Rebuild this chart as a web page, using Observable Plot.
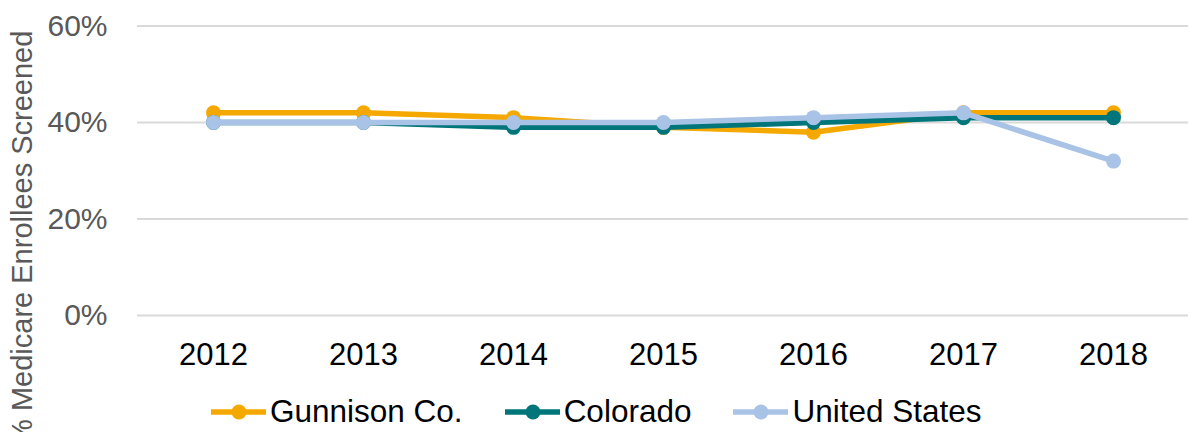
<!DOCTYPE html>
<html>
<head>
<meta charset="utf-8">
<script src="https://cdn.jsdelivr.net/npm/d3@7"></script>
<script src="https://cdn.jsdelivr.net/npm/@observablehq/plot@0.6"></script>
<style>
  html, body { margin: 0; padding: 0; background: #fff; }
  #wrap { position: relative; width: 1189px; height: 432px; overflow: hidden; font-family: "Liberation Sans", Arial, sans-serif; }
  #legend { position: absolute; left: 211px; top: 393px; display: flex; align-items: center; font-size: 31.5px; color: #000; white-space: nowrap; }
  .item { display: flex; align-items: center; margin-right: 42px; }
  .item svg { margin-right: 4px; }
</style>
</head>
<body>
<div id="wrap"><div id="legend"></div></div>
<script>
const years = ["2012", "2013", "2014", "2015", "2016", "2017", "2018"];
const gunnison = [42, 42, 41, 39, 38, 42, 42];
const colorado = [40, 40, 39, 39, 40, 41, 41];
const unitedStates = [40, 40, 40, 40, 41, 42, 32];
const seriesNames = ["Gunnison Co.", "Colorado", "United States"];
const seriesColors = ["#F5A800", "#00767A", "#A9C3E7"];
const yTicks = [0, 20, 40, 60];
const yLabel = "% Medicare Enrollees Screened";

const seriesValues = [gunnison, colorado, unitedStates];
const rows = seriesNames.map((name, s) => years.map((yr, i) => ({series: name, year: yr, value: seriesValues[s][i]})));

const marks = [
  Plot.gridY(yTicks, {stroke: "#d9d9d9", strokeOpacity: 1, strokeWidth: 2})
];
rows.forEach((data, s) => {
  marks.push(Plot.line(data, {x: "year", y: "value", stroke: seriesColors[s], strokeWidth: 5.5}));
  marks.push(Plot.dot(data, {x: "year", y: "value", fill: seriesColors[s], r: 7.5}));
});
marks.push(Plot.axisY(yTicks, {tickSize: 0, tickPadding: 30, tickFormat: d => d + "%", fontSize: 30, fill: "#595959", label: null}));
marks.push(Plot.axisX({tickSize: 0, tickPadding: 27, fontSize: 31, fill: "#000", label: null}));
marks.push(Plot.text([yLabel], {text: d => d, frameAnchor: "left", rotate: -90, dx: -114.5, dy: 67, fontSize: 29, fill: "#595959", textAnchor: "middle", lineAnchor: "middle"}));

const chart = Plot.plot({
  width: 1189,
  height: 432,
  marginLeft: 137,
  marginRight: 1,
  marginTop: 25.5,
  marginBottom: 117,
  style: {fontFamily: "'Liberation Sans', Arial, sans-serif", background: "#fff", overflow: "visible"},
  x: {type: "point", domain: years, padding: 0.5, align: 0.5},
  y: {domain: [0, 60]},
  marks
});
document.getElementById("wrap").prepend(chart);

const legend = d3.select("#legend");
seriesNames.forEach((name, s) => {
  const item = legend.append("div").attr("class", "item");
  const sv = item.append("svg").attr("width", 55).attr("height", 20);
  sv.append("line").attr("x1", 1).attr("x2", 54).attr("y1", 10).attr("y2", 10)
    .attr("stroke", seriesColors[s]).attr("stroke-width", 5.5).attr("stroke-linecap", "round");
  sv.append("circle").attr("cx", 28).attr("cy", 10).attr("r", 7.5).attr("fill", seriesColors[s]);
  item.append("span").text(name);
});
</script>
</body>
</html>
